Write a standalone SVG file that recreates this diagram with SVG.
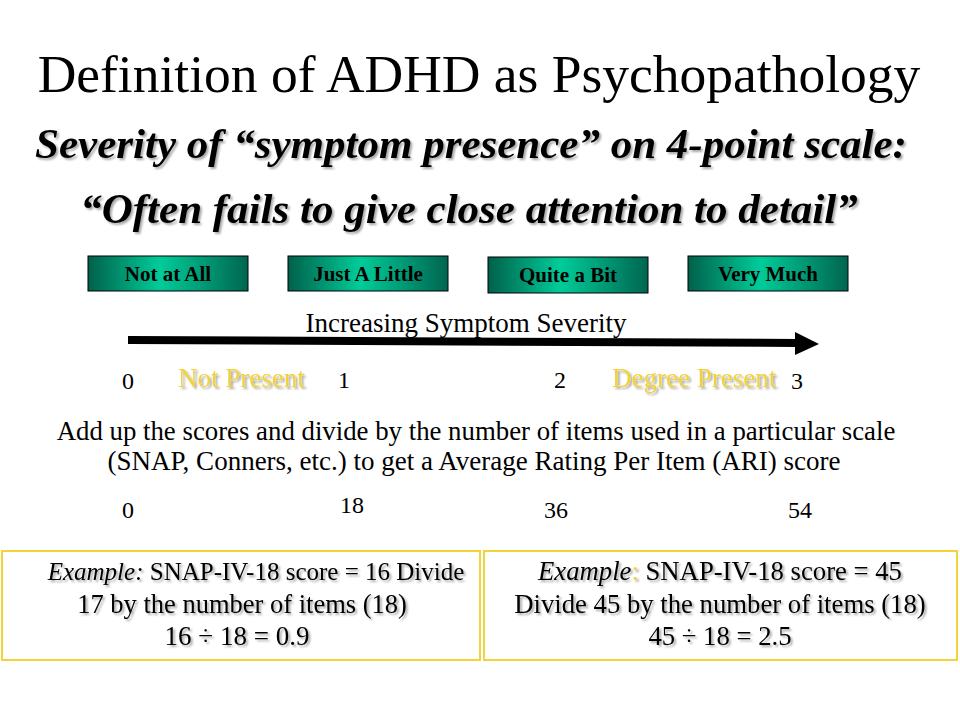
<svg xmlns="http://www.w3.org/2000/svg" width="960" height="720" viewBox="0 0 960 720">
<defs>
<linearGradient id="teal" x1="0" y1="0" x2="1" y2="0">
<stop offset="0" stop-color="#00604a"/>
<stop offset="0.45" stop-color="#00cc99"/>
<stop offset="1" stop-color="#006650"/>
</linearGradient>
<filter id="sh" x="-5%" y="-20%" width="110%" height="150%">
<feGaussianBlur in="SourceAlpha" stdDeviation="1"/>
<feOffset dx="2" dy="2" result="b"/>
<feComponentTransfer><feFuncA type="linear" slope="0.35"/></feComponentTransfer>
<feMerge><feMergeNode/><feMergeNode in="SourceGraphic"/></feMerge>
</filter>
</defs>
<style>
.t{font-family:"Liberation Serif","Times New Roman",serif;fill:#000}
.bi{font-weight:bold;font-style:italic}
.box{fill:url(#teal);stroke:#000;stroke-width:1}
.bl{font-family:"Liberation Serif",serif;font-weight:bold;font-size:21px;text-anchor:middle;fill:#000}
.ex{fill:#fff;stroke:#f0d43a;stroke-width:2}
.m{text-anchor:middle}
.yl{fill:#f2d23a}
</style>
<rect width="960" height="720" fill="#fff"/>
<text class="t m" x="479" y="92" font-size="53.5">Definition of ADHD as Psychopathology</text>
<text class="t bi m" x="471" y="158" font-size="43" filter="url(#sh)">Severity of “symptom presence” on 4-point scale:</text>
<text class="t bi m" x="469" y="223" font-size="43" filter="url(#sh)">“Often fails to give close attention to detail”</text>

<g id="node-not-at-all"><rect class="box" x="88" y="256" width="160" height="35"/><text class="bl" x="168" y="281">Not at All</text></g>
<g id="node-just-a-little"><rect class="box" x="288" y="256" width="160" height="35"/><text class="bl" x="368" y="281">Just A Little</text></g>
<g id="node-quite-a-bit"><rect class="box" x="488" y="257" width="160" height="36"/><text class="bl" x="568" y="282">Quite a Bit</text></g>
<g id="node-very-much"><rect class="box" x="688" y="256" width="160" height="35"/><text class="bl" x="768" y="281">Very Much</text></g>

<g id="connectors">
<path d="M128 340 L797 343" stroke="#000" stroke-width="8" fill="none"/>
<polygon points="795,332 819,344 795,355" fill="#000"/>
</g>
<text class="t m" x="466" y="332" font-size="27">Increasing Symptom Severity</text>

<g font-size="24">
<text class="t" x="122" y="389">0</text>
<text class="t yl" x="178" y="387" font-size="27" filter="url(#sh)">Not Present</text>
<text class="t" x="338" y="388">1</text>
<text class="t" x="554" y="388">2</text>
<text class="t yl" x="612" y="387" font-size="27" filter="url(#sh)">Degree Present</text>
<text class="t" x="791" y="389">3</text>
</g>

<text class="t m" x="476" y="440" font-size="26.8">Add up the scores and divide by the number of items used in a particular scale</text>
<text class="t m" x="474" y="470" font-size="27">(SNAP, Conners, etc.) to get a Average Rating Per Item (ARI) score</text>

<g font-size="24">
<text class="t" x="122" y="518">0</text>
<text class="t" x="340" y="513">18</text>
<text class="t" x="544" y="518">36</text>
<text class="t" x="788" y="518">54</text>
</g>

<g id="example-left">
<rect class="ex" x="2" y="551" width="478" height="109"/>
<text class="t m" x="256" y="580" font-size="25" filter="url(#sh)"><tspan font-style="italic">Example:</tspan> SNAP-IV-18 score = 16 Divide</text>
<text class="t m" x="242" y="613" font-size="26.5" filter="url(#sh)">17 by the number of items (18)</text>
<text class="t m" x="237" y="645" font-size="27" filter="url(#sh)">16 ÷ 18 = 0.9</text>
</g>
<g id="example-right">
<rect class="ex" x="484" y="551" width="473" height="109"/>
<text class="t m" x="720" y="580" font-size="26.7" filter="url(#sh)"><tspan font-style="italic">Example</tspan><tspan class="yl">:</tspan> SNAP-IV-18 score = 45</text>
<text class="t m" x="720" y="613" font-size="26.7" filter="url(#sh)">Divide 45 by the number of items (18)</text>
<text class="t m" x="720" y="645" font-size="26.7" filter="url(#sh)">45 ÷ 18 = 2.5</text>
</g>
</svg>
